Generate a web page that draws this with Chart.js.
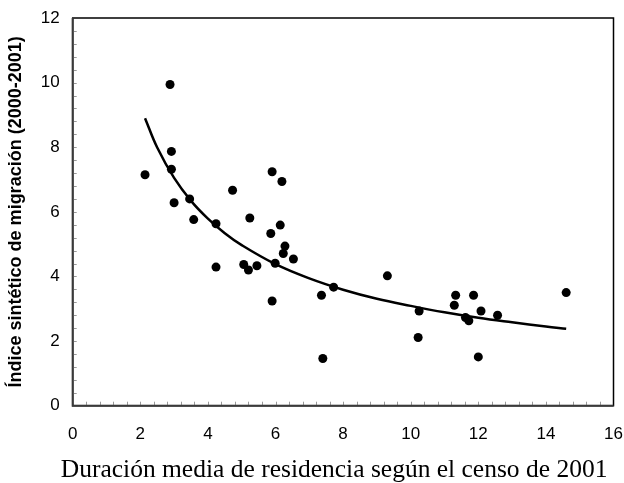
<!DOCTYPE html>
<html>
<head>
<meta charset="utf-8">
<script src="https://cdn.jsdelivr.net/npm/chart.js@4.4.1/dist/chart.umd.min.js"></script>
<style>
  html, body { margin: 0; padding: 0; background: #fff; }
  #wrap { width: 624px; height: 483px; }
</style>
</head>
<body>
<div id="wrap"><canvas id="chart" width="624" height="483"></canvas></div>
<script>
// puntos observados (x = duración media de residencia, y = índice sintético)
const durX = [2.14, 2.88, 2.92, 2.92, 3.00, 3.46, 3.58, 4.24, 4.24, 4.73, 5.24, 5.06, 5.20, 5.45, 5.90, 6.19, 5.86, 6.14, 6.28, 6.23, 6.53, 5.99, 5.90, 7.36, 7.40, 7.72, 9.31, 10.25, 10.22, 11.33, 11.29, 11.86, 12.08, 11.62, 11.72, 12.00, 12.57, 14.60];
const indiceY = [7.15, 9.94, 7.87, 7.32, 6.28, 6.40, 5.76, 5.63, 4.29, 6.67, 5.81, 4.37, 4.20, 4.33, 7.24, 6.94, 5.33, 5.59, 4.94, 4.71, 4.54, 4.41, 3.24, 3.42, 1.46, 3.67, 4.02, 2.93, 2.11, 3.42, 3.11, 3.42, 2.93, 2.73, 2.63, 1.51, 2.80, 3.50];

// línea de tendencia
const trendX = [2.14, 2.5, 3, 3.5, 4, 4.5, 5, 6, 7, 8, 9, 10, 11, 12, 13, 14, 14.6];
const trendY = [8.90, 7.99, 7.05, 6.34, 5.79, 5.34, 4.97, 4.38, 3.94, 3.59, 3.31, 3.09, 2.89, 2.72, 2.58, 2.45, 2.38];

const xTitle = "Duración media de residencia según el censo de 2001";
const yTitle = "Índice sintético de migración (2000-2001)";

const points = durX.map((x, i) => ({ x: x, y: indiceY[i] }));
const trend = trendX.map((x, i) => ({ x: x, y: trendY[i] }));

// marco, ejes, marcas menores hacia dentro y título del eje x
const framePlugin = {
  id: "frame",
  afterDraw(chart) {
    const { ctx, chartArea: a, scales } = chart;
    ctx.save();
    ctx.strokeStyle = "#000";
    ctx.lineWidth = 1.5;
    ctx.strokeRect(a.left, a.top, a.right - a.left, a.bottom - a.top);
    ctx.strokeStyle = "#999";
    ctx.lineWidth = 1;
    for (let v = 0.4; v < 16; v += 0.4) {
      const px = Math.round(scales.x.getPixelForValue(v)) + 0.5;
      ctx.beginPath();
      ctx.moveTo(px, a.bottom);
      ctx.lineTo(px, a.bottom - 4);
      ctx.stroke();
    }
    for (let v = 0.4; v < 12; v += 0.4) {
      const py = Math.round(scales.y.getPixelForValue(v)) + 0.5;
      ctx.beginPath();
      ctx.moveTo(a.left, py);
      ctx.lineTo(a.left + 4, py);
      ctx.stroke();
    }
    ctx.strokeStyle = "#3a3a3a";
    ctx.lineWidth = 2;
    ctx.beginPath();
    ctx.moveTo(a.left, a.top);
    ctx.lineTo(a.left, a.bottom);
    ctx.lineTo(a.right, a.bottom);
    ctx.stroke();

    ctx.fillStyle = "#000";
    ctx.font = "25.5px 'Liberation Serif'";
    ctx.textAlign = "center";
    ctx.textBaseline = "alphabetic";
    ctx.fillText(xTitle, a.left + (a.right - a.left) / 2 - 9, 476.5);
    ctx.restore();
  }
};

new Chart(document.getElementById("chart"), {
  type: "scatter",
  data: {
    datasets: [
      {
        data: trend,
        showLine: true,
        borderColor: "#000",
        borderWidth: 2.5,
        pointRadius: 0,
        tension: 0.4,
        fill: false
      },
      {
        data: points,
        backgroundColor: "#000",
        borderColor: "#000",
        pointRadius: 4.5,
        pointBorderWidth: 0
      }
    ]
  },
  options: {
    responsive: false,
    animation: false,
    layout: { padding: { top: 18, right: 10.5, left: 0, bottom: 0 } },
    plugins: { legend: { display: false }, tooltip: { enabled: false } },
    scales: {
      x: {
        type: "linear",
        min: 0,
        max: 16,
        border: { display: false },
        grid: { display: false, drawTicks: false },
        ticks: { stepSize: 2, padding: 18, color: "#000", font: { family: "Liberation Sans", size: 17 } },
        afterFit(scale) {
          scale.height = 77.3;
          scale.paddingLeft = 0;
          scale.paddingRight = 0;
        }
      },
      y: {
        type: "linear",
        min: 0,
        max: 12,
        border: { display: false },
        grid: { display: false, drawTicks: false },
        ticks: { stepSize: 2, padding: 13, color: "#000", font: { family: "Liberation Sans", size: 17 } },
        title: { display: true, text: yTitle, color: "#000", padding: { top: 5, bottom: 0 }, font: { family: "Liberation Sans", size: 18, weight: "bold" } },
        afterFit(scale) {
          scale.width = 72.7;
          scale.paddingTop = 0;
          scale.paddingBottom = 0;
        }
      }
    }
  },
  plugins: [framePlugin]
});
</script>
</body>
</html>
